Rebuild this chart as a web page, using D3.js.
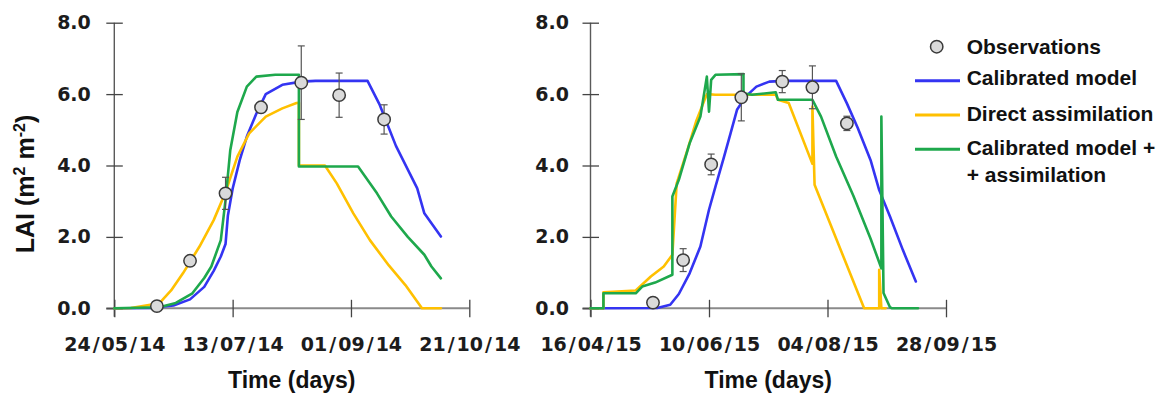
<!DOCTYPE html>
<html>
<head>
<meta charset="utf-8">
<script src="https://cdn.jsdelivr.net/npm/d3@7"></script>
<style>
  html, body { margin: 0; padding: 0; background: #fff; }
  svg { display: block; }
</style>
</head>
<body>
<svg id="chart" width="1170" height="396"></svg>
<script>
// ---- Data: LAI (m2 m-2) over two seasons ----
const yTicks = [0, 2, 4, 6, 8];
const ticks2014 = ["24/05/14", "13/07/14", "01/09/14", "21/10/14"];
const ticks2015 = ["16/04/15", "10/06/15", "04/08/15", "28/09/15"];

// observations: [date, LAI, standard deviation]
const obs2014 = [
  ["11/06/14", 0.06, 0], ["25/06/14", 1.33, 0], ["10/07/14", 3.22, 0.45],
  ["25/07/14", 5.63, 0], ["11/08/14", 6.32, 1.03], ["27/08/14", 5.97, 0.62],
  ["15/09/14", 5.29, 0.41]
];
const obs2015 = [
  ["15/05/15", 0.16, 0], ["29/05/15", 1.35, 0.32], ["11/06/15", 4.03, 0.29],
  ["25/06/15", 5.91, 0.66], ["14/07/15", 6.35, 0.31], ["28/07/15", 6.19, 0.6],
  ["13/08/15", 5.18, 0.2]
];

// Calibrated model
const calib2014 = [
  ["24/05/14", 0], ["08/06/14", 0.01], ["18/06/14", 0.08], ["25/06/14", 0.25],
  ["01/07/14", 0.6], ["05/07/14", 1.05], ["08/07/14", 1.45], ["10/07/14", 1.8],
  ["11/07/14", 2.6], ["13/07/14", 3.35], ["16/07/14", 4.15], ["19/07/14", 4.81],
  ["23/07/14", 5.45], ["27/07/14", 6.0], ["03/08/14", 6.26], ["11/08/14", 6.35],
  ["17/08/14", 6.37], ["08/09/14", 6.37], ["13/09/14", 5.72], ["20/09/14", 4.55],
  ["29/09/14", 3.36], ["02/10/14", 2.66], ["09/10/14", 2.01]
];
const calib2015 = [
  ["16/04/15", 0], ["17/05/15", 0.01], ["23/05/15", 0.1], ["27/05/15", 0.4],
  ["01/06/15", 0.98], ["06/06/15", 1.73], ["10/06/15", 2.76], ["13/06/15", 3.41],
  ["17/06/15", 4.25], ["20/06/15", 4.9], ["23/06/15", 5.56], ["27/06/15", 5.93],
  ["02/07/15", 6.21], ["08/07/15", 6.35], ["15/07/15", 6.37], ["08/08/15", 6.37],
  ["13/08/15", 5.74], ["18/08/15", 5.06], ["24/08/15", 4.15], ["28/08/15", 3.31],
  ["02/09/15", 2.57], ["08/09/15", 1.63], ["14/09/15", 0.75]
];

// Direct assimilation
const direct2014 = [
  ["24/05/14", 0], ["31/05/14", 0.01], ["12/06/14", 0.14], ["17/06/14", 0.5],
  ["22/06/14", 0.98], ["29/06/14", 1.73], ["05/07/14", 2.47], ["10/07/14", 3.25],
  ["15/07/14", 4.25], ["20/07/14", 4.9], ["27/07/14", 5.37], ["03/08/14", 5.6],
  ["09/08/14", 5.75], ["10/08/14", 5.76], ["10/08/14", 4.0], ["21/08/14", 4.0],
  ["26/08/14", 3.5], ["02/09/14", 2.66], ["09/09/14", 1.91], ["17/09/14", 1.2],
  ["24/09/14", 0.65], ["01/10/14", 0], ["09/10/14", 0]
];
const direct2015 = [
  ["16/04/15", 0], ["22/04/15", 0], ["22/04/15", 0.45], ["07/05/15", 0.5],
  ["14/05/15", 0.89], ["20/05/15", 1.17], ["24/05/15", 1.5], ["26/05/15", 3.5],
  ["31/05/15", 4.44], ["04/06/15", 5.23], ["09/06/15", 6.0], ["13/06/15", 5.98],
  ["11/07/15", 5.98], ["12/07/15", 5.84], ["17/07/15", 5.75], ["27/07/15", 4.2],
  ["28/07/15", 4.05], ["28/07/15", 5.65], ["29/07/15", 3.46], ["21/08/15", 0],
  ["28/08/15", 0], ["28/08/15", 1.08], ["29/08/15", 0], ["31/08/15", 0]
];

// Calibrated model + assimilation
const combo2014 = [
  ["24/05/14", 0], ["12/06/14", 0.03], ["19/06/14", 0.15], ["26/06/14", 0.42],
  ["01/07/14", 0.85], ["04/07/14", 1.17], ["08/07/14", 1.91], ["10/07/14", 3.03],
  ["12/07/14", 4.43], ["15/07/14", 5.5], ["19/07/14", 6.21], ["23/07/14", 6.49],
  ["31/07/14", 6.54], ["10/08/14", 6.54], ["10/08/14", 3.97], ["04/09/14", 3.97],
  ["12/09/14", 3.22], ["18/09/14", 2.57], ["25/09/14", 2.0], ["02/10/14", 1.5],
  ["05/10/14", 1.17], ["09/10/14", 0.84]
];
const combo2015 = [
  ["16/04/15", 0], ["22/04/15", 0], ["22/04/15", 0.42], ["07/05/15", 0.42],
  ["10/05/15", 0.61], ["16/05/15", 0.72], ["24/05/15", 0.94], ["24/05/15", 3.13],
  ["27/05/15", 3.6], ["01/06/15", 4.62], ["06/06/15", 5.37], ["09/06/15", 6.49],
  ["10/06/15", 5.51], ["11/06/15", 6.4], ["13/06/15", 6.54], ["26/06/15", 6.56],
  ["26/06/15", 6.02], ["30/06/15", 5.98], ["11/07/15", 6.05], ["12/07/15", 5.84],
  ["28/07/15", 5.84], ["01/08/15", 5.37], ["08/08/15", 4.25], ["16/08/15", 3.15],
  ["24/08/15", 1.95], ["29/08/15", 1.12], ["29/08/15", 5.37], ["30/08/15", 0.43],
  ["02/09/15", 0.03], ["03/09/15", 0], ["15/09/15", 0]
];

const seriesNames = ["Calibrated model", "Direct assimilation", "Calibrated model +", "+ assimilation"];
const obsName = "Observations";

// ---- Drawing ----
const colors = { calib: "#3434f2", direct: "#ffc000", combo: "#1ea84c" };
const parse = d3.utcParse("%d/%m/%y");
const svg = d3.select("#chart");
svg.append("rect").attr("width", 1170).attr("height", 396).attr("fill", "#fff");

const y = d3.scaleLinear().domain([0, 8]).range([308.3, 22.7]);

const panels = [
  { left: 114.3, right: 469.3, ticks: ticks2014, obs: obs2014, labelGap: 23.5,
    lines: [[calib2014, colors.calib], [direct2014, colors.direct], [combo2014, colors.combo]] },
  { left: 590.5, right: 946, ticks: ticks2015, obs: obs2015, labelGap: 21.5,
    lines: [[calib2015, colors.calib], [direct2015, colors.direct], [combo2015, colors.combo]] }
];

const tickFont = "'DejaVu Sans', Verdana, sans-serif";
const titleFont = "'Liberation Sans', Arial, sans-serif";
const fmtDate = d3.utcFormat("%d/%m/%y");

panels.forEach(p => {
  const x = d3.scaleUtc()
    .domain([parse(p.ticks[0]), parse(p.ticks[p.ticks.length - 1])])
    .range([p.left, p.right]);
  const g = svg.append("g");

  // axis lines
  g.append("line")
    .attr("x1", p.left - 8).attr("x2", p.right)
    .attr("y1", y(0)).attr("y2", y(0))
    .attr("stroke", "#8a8a8a").attr("stroke-width", 2);
  g.append("line")
    .attr("x1", p.left).attr("x2", p.left)
    .attr("y1", y(8)).attr("y2", y(0) + 8.5)
    .attr("stroke", "#5a5a5a").attr("stroke-width", 1.4);

  // x axis ticks and labels (slashes set slightly apart)
  const xAxis = d3.axisBottom(x)
    .tickValues(p.ticks.map(parse))
    .tickFormat(fmtDate)
    .tickSizeInner(9).tickSizeOuter(0);
  const xg = g.append("g").attr("transform", `translate(0,${y(0)})`).call(xAxis);
  xg.select(".domain").remove();
  xg.selectAll(".tick line").attr("y1", -8.5).attr("stroke", "#444").attr("stroke-width", 1.3);
  xg.selectAll(".tick text")
    .attr("y", 43).attr("dy", 0)
    .attr("fill", "#1c1c1c")
    .style("font-family", tickFont).style("font-weight", "bold").style("font-size", "19px")
    .each(function (d) {
      const t = d3.select(this);
      const parts = fmtDate(d).split("/");
      t.text(null);
      parts.forEach((s, i) => {
        if (i > 0) t.append("tspan").attr("dx", 2).text("/");
        t.append("tspan").attr("dx", i > 0 ? 2 : 0).text(s);
      });
    });

  // y axis ticks and labels
  const yAxis = d3.axisLeft(y)
    .tickValues(yTicks)
    .tickFormat(d3.format(".1f"))
    .tickSizeInner(8).tickSizeOuter(0);
  const yg = g.append("g").attr("transform", `translate(${p.left},0)`).call(yAxis);
  yg.select(".domain").remove();
  yg.selectAll(".tick line").attr("x1", 8.5).attr("stroke", "#444").attr("stroke-width", 1.3);
  yg.selectAll(".tick text")
    .attr("x", -p.labelGap)
    .attr("fill", "#1c1c1c")
    .style("font-family", tickFont).style("font-weight", "bold").style("font-size", "19px");

  // x axis title
  g.append("text")
    .attr("x", (p.left + p.right) / 2).attr("y", 388)
    .attr("text-anchor", "middle")
    .style("font-family", titleFont).style("font-weight", "bold").style("font-size", "23px")
    .attr("fill", "#111")
    .text("Time (days)");

  // model series
  const line = d3.line().x(d => x(parse(d[0]))).y(d => y(d[1]));
  p.lines.forEach(([data, color]) => {
    g.append("path")
      .attr("d", line(data))
      .attr("fill", "none")
      .attr("stroke", color)
      .attr("stroke-width", 2.6)
      .attr("stroke-linejoin", "round")
      .attr("stroke-linecap", "round");
  });

  // observations with error bars
  const og = g.append("g");
  p.obs.filter(d => d[2] > 0).forEach(d => {
    const cx = x(parse(d[0]));
    const y1 = y(d[1] + d[2]), y2 = y(d[1] - d[2]);
    og.append("line").attr("x1", cx).attr("x2", cx).attr("y1", y1).attr("y2", y2)
      .attr("stroke", "#555").attr("stroke-width", 1.2);
    [y1, y2].forEach(yy => og.append("line")
      .attr("x1", cx - 3.5).attr("x2", cx + 3.5).attr("y1", yy).attr("y2", yy)
      .attr("stroke", "#555").attr("stroke-width", 1.2));
  });
  og.selectAll("circle").data(p.obs).join("circle")
    .attr("cx", d => x(parse(d[0])))
    .attr("cy", d => y(d[1]))
    .attr("r", 6.2)
    .attr("fill", "#dadada")
    .attr("stroke", "#3a3a3a")
    .attr("stroke-width", 1.5);
});

// y axis title
const yt = svg.append("text")
  .attr("transform", "translate(34,184) rotate(-90)")
  .attr("text-anchor", "middle")
  .style("font-family", titleFont).style("font-weight", "bold").style("font-size", "25px")
  .attr("fill", "#111");
yt.append("tspan").text("LAI (m");
yt.append("tspan").attr("dy", -9).style("font-size", "16px").text("2");
yt.append("tspan").attr("dy", 9).text(" m");
yt.append("tspan").attr("dy", -9).style("font-size", "16px").text("-2");
yt.append("tspan").attr("dy", 9).text(")");

// legend
const lg = svg.append("g");
const legendText = (txt, yy) => lg.append("text")
  .attr("x", 966.7).attr("y", yy)
  .style("font-family", titleFont).style("font-weight", "bold").style("font-size", "21px")
  .attr("fill", "#111").text(txt);
lg.append("circle").attr("cx", 936.7).attr("cy", 46.7).attr("r", 6.2)
  .attr("fill", "#dadada").attr("stroke", "#3a3a3a").attr("stroke-width", 1.5);
legendText(obsName, 54);
[[colors.calib, 80.7, seriesNames[0], 85],
 [colors.direct, 115, seriesNames[1], 120.5],
 [colors.combo, 149.3, seriesNames[2], 155]].forEach(([c, ly, txt, ty]) => {
  lg.append("line").attr("x1", 915).attr("x2", 960).attr("y1", ly).attr("y2", ly)
    .attr("stroke", c).attr("stroke-width", 3);
  legendText(txt, ty);
});
legendText(seriesNames[3], 181.5);
</script>
</body>
</html>
